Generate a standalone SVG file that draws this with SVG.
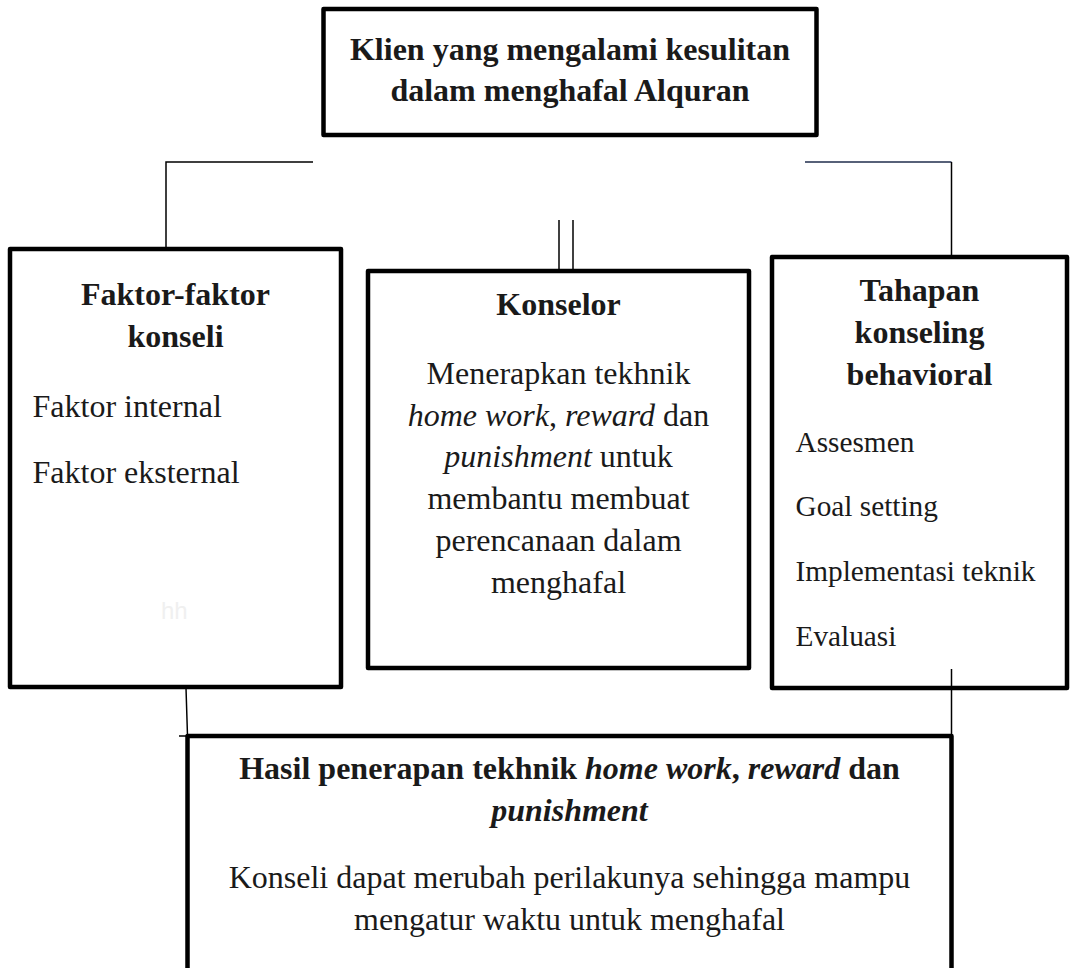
<svg xmlns="http://www.w3.org/2000/svg" width="1077" height="968" viewBox="0 0 1077 968">
<style>
.box{fill:#fff;stroke:#000;stroke-width:4.5;stroke-linejoin:round}
.ln{fill:none;stroke:#000;stroke-width:1.5}
text{font-family:"Liberation Serif","Times New Roman",serif;fill:#1a1a1a}
.t{font-size:32px;font-weight:bold}
.b{font-size:32px}
.s{font-size:29.3px}
.c{text-anchor:middle}
.i{font-style:italic}
</style>
<rect width="1077" height="968" fill="#fff"/>
<g id="connectors">
<polyline class="ln" points="313,162 166,162 166,249"/>
<polyline class="ln" points="805,162 951.5,162" style="stroke:#1f2d4d"/>
<polyline class="ln" points="951.5,162 951.5,257"/>
<line class="ln" x1="559" y1="220" x2="559" y2="271"/>
<line class="ln" x1="573" y1="220" x2="573" y2="271"/>
</g>
<g id="top">
<rect class="box" x="323.5" y="9" width="493" height="126"/>
<text class="t c" x="570" y="60">Klien yang mengalami kesulitan</text>
<text class="t c" x="570" y="101">dalam menghafal Alquran</text>
</g>
<g id="faktor">
<rect class="box" x="10" y="249" width="331" height="438"/>
<text class="t c" x="175.5" y="305">Faktor-faktor</text>
<text class="t c" x="175.5" y="347">konseli</text>
<text class="b" x="32.5" y="417">Faktor internal</text>
<text class="b" x="32.5" y="482.5">Faktor eksternal</text>
<text x="161" y="619" style="font-family:'Liberation Sans',Arial,sans-serif;font-size:24px;fill:#f0f0f0">hh</text>
</g>
<g id="konselor">
<rect class="box" x="368" y="271" width="381" height="397"/>
<text class="t c" x="558.5" y="315">Konselor</text>
<text class="b c" x="558.5" y="384">Menerapkan tekhnik</text>
<text class="b c" x="558.5" y="425.5"><tspan class="i">home work</tspan>, <tspan class="i">reward</tspan> dan</text>
<text class="b c" x="558.5" y="467"><tspan class="i">punishment</tspan> untuk</text>
<text class="b c" x="558.5" y="509">membantu membuat</text>
<text class="b c" x="558.5" y="551">perencanaan dalam</text>
<text class="b c" x="558.5" y="593">menghafal</text>
</g>
<g id="tahapan">
<rect class="box" x="772" y="257" width="295" height="431"/>
<text class="t c" x="919.5" y="301">Tahapan</text>
<text class="t c" x="919.5" y="343">konseling</text>
<text class="t c" x="919.5" y="385">behavioral</text>
<text class="s" x="795.5" y="452">Assesmen</text>
<text class="s" x="795.5" y="516">Goal setting</text>
<text class="s" x="795.5" y="581">Implementasi teknik</text>
<text class="s" x="795.5" y="646">Evaluasi</text>
</g>
<g id="connectors-lower">
<line class="ln" x1="186" y1="688" x2="187.5" y2="736"/>
<line class="ln" x1="179" y1="736" x2="188" y2="736"/>
<line class="ln" x1="951.5" y1="669" x2="951.5" y2="736"/>
</g>
<g id="hasil">
<rect class="box" x="187.5" y="736" width="764" height="250"/>
<text class="t c" x="569.5" y="779">Hasil penerapan tekhnik <tspan class="i">home work</tspan>, <tspan class="i">reward</tspan> dan</text>
<text class="t c i" x="569.5" y="821">punishment</text>
<text class="b c" x="569.5" y="888">Konseli dapat merubah perilakunya sehingga mampu</text>
<text class="b c" x="569.5" y="930">mengatur waktu untuk menghafal</text>
</g>
</svg>
